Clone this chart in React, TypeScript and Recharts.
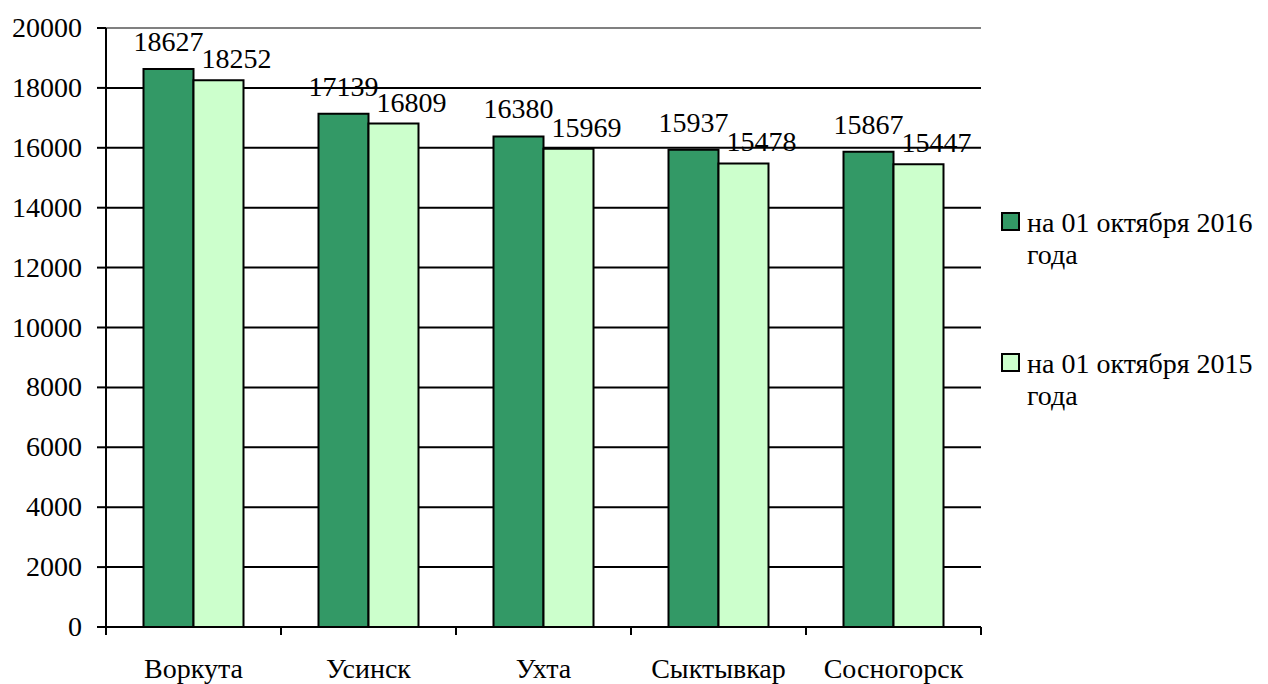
import React from 'react';
import { BarChart, Bar, XAxis, YAxis, CartesianGrid, ReferenceLine, LabelList } from 'recharts';

const categories = ['Воркута', 'Усинск', 'Ухта', 'Сыктывкар', 'Сосногорск'];
const values2016 = [18627, 17139, 16380, 15937, 15867];
const values2015 = [18252, 16809, 15969, 15478, 15447];
const yTicks = [0, 2000, 4000, 6000, 8000, 10000, 12000, 14000, 16000, 18000, 20000];
const seriesNames = ['на 01 октября 2016 года', 'на 01 октября 2015 года'];
const seriesColors = ['#339966', '#CCFFCC'];

const data = categories.map((name, i) => ({ name, v2016: values2016[i], v2015: values2015[i] }));

const FONT = 'Liberation Serif, serif';
const FS = 28;

const makeLabel = (dx: number, gap: number) => (props: any) => {
  const { x, y, width, value } = props;
  return (
    <text x={Number(x) + Number(width) / 2 + dx} y={Number(y) - gap} textAnchor="middle"
      style={{ fontFamily: FONT, fontSize: FS }} fill="#000">{value}</text>
  );
};

const XTick = (props: any) => {
  const { x, y, payload, index, visibleTicksCount } = props;
  const off = payload.offset || 0;
  const axisY = y - 10;
  return (
    <g>
      <line x1={x - off} x2={x - off} y1={axisY} y2={axisY + 8} stroke="#000" strokeWidth={2} />
      {index === visibleTicksCount - 1 && (
        <line x1={x + off} x2={x + off} y1={axisY} y2={axisY + 8} stroke="#000" strokeWidth={2} />
      )}
      <text x={x} y={y} dy={41} textAnchor="middle" style={{ fontFamily: FONT, fontSize: FS }} fill="#000">
        {payload.value}
      </text>
    </g>
  );
};

const YTick = (props: any) => {
  const { x, y, payload } = props;
  return (
    <text x={x} y={y} dy={9} textAnchor="end" style={{ fontFamily: FONT, fontSize: FS }} fill="#000">
      {payload.value}
    </text>
  );
};

export default function App() {
  return (
    <div style={{ position: 'absolute', left: 0, top: 0, width: 1268, height: 684, background: '#fff', fontFamily: FONT }}>
      <BarChart width={1268} height={684} data={data}
        margin={{ top: 28, right: 287, left: 0, bottom: 0 }}
        barCategoryGap="21.43%" barGap={0} style={{ fontFamily: FONT }}>
        <CartesianGrid vertical={false} stroke="#000" strokeWidth={2} />
        <XAxis dataKey="name" height={57} axisLine={{ stroke: '#000', strokeWidth: 2 }}
          tickLine={false} tickSize={8} tickMargin={2} tick={<XTick />} interval={0} />
        <YAxis width={106} domain={[0, 20000]} ticks={yTicks} interval={0}
          axisLine={{ stroke: '#000', strokeWidth: 2 }} tickLine={{ stroke: '#000', strokeWidth: 2 }}
          tickSize={9} tickMargin={15} tick={<YTick />} />
        <YAxis yAxisId="r" orientation="right" width={0} domain={[0, 20000]}
          tick={false} tickLine={false} axisLine={{ stroke: '#808080', strokeWidth: 2 }} />
        <ReferenceLine y={20000} stroke="#808080" strokeWidth={2} />
        <Bar dataKey="v2016" name={seriesNames[0]} fill={seriesColors[0]} stroke="#000" strokeWidth={2}
          isAnimationActive={false}>
          <LabelList dataKey="v2016" content={makeLabel(0, 18)} />
        </Bar>
        <Bar dataKey="v2015" name={seriesNames[1]} fill={seriesColors[1]} stroke="#000" strokeWidth={2}
          isAnimationActive={false}>
          <LabelList dataKey="v2015" content={makeLabel(18, 12)} />
        </Bar>
      </BarChart>
      {seriesNames.map((n, i) => (
        <div key={n} style={{ position: 'absolute', left: 1001, top: 207 + i * 141, width: 267 }}>
          <div style={{ position: 'absolute', left: 0, top: 5, width: 19, height: 19, boxSizing: 'border-box',
            border: '2px solid #000', background: seriesColors[i] }} />
          <div style={{ position: 'absolute', left: 26, top: 0, width: 241, fontFamily: FONT, fontSize: FS,
            lineHeight: '32px', color: '#000' }}>{n}</div>
        </div>
      ))}
    </div>
  );
}
